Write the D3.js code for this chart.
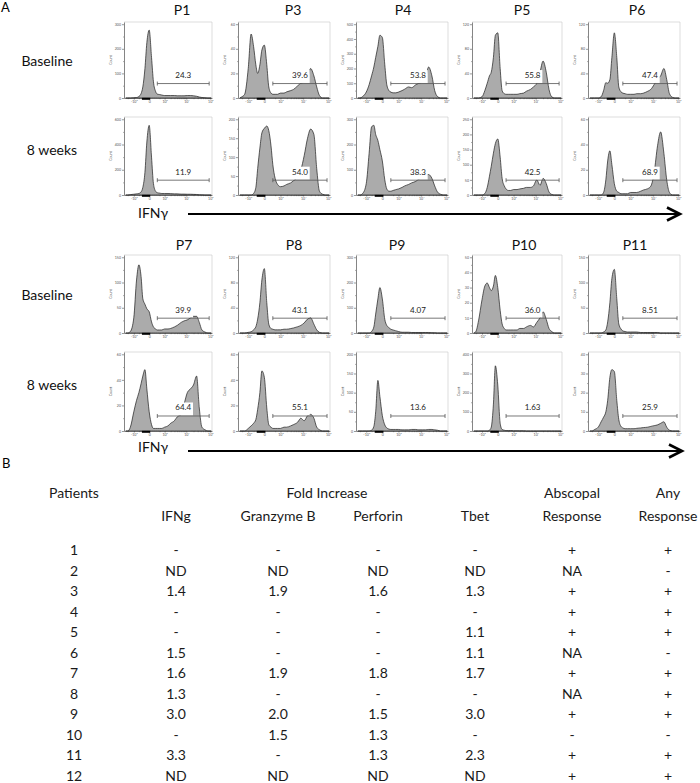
<!DOCTYPE html>
<html>
<head>
<meta charset="utf-8">
<script src="https://cdn.jsdelivr.net/npm/d3@7"></script>
<style>
	body { margin: 0; background: #fff; }
	svg text { font-family: Lato, "Open Sans", sans-serif; }
</style>
</head>
<body>
<script>
// IFNγ intensity bins shared by every histogram (biexponential axis)
var bins = [-2500, -2000, -1500, -1000, -700, -500, -350, -250, -150, -75, 0, 75, 150, 250, 350, 500, 700,
	1000, 1500, 2000, 3000, 4000, 6000, 8000, 11000, 15000, 20000, 27000, 35000, 45000, 60000, 80000, 110000]
var xDomain = [-3000, 118000]
var xTickValues = [-1000, 0, 1000, 10000, 100000]
var xTickLabels = ["-10³", "0", "10³", "10⁴", "10⁵"]
var minorTicks = [-2000, -500, 500, 2000, 3000, 4000, 5000, 6000, 7000, 8000, 9000,
	20000, 30000, 40000, 50000, 60000, 70000, 80000, 90000]
var gateRange = [350, 90000]

var topPatients = ["P1", "P3", "P4", "P5", "P6"]
var bottomPatients = ["P7", "P8", "P9", "P10", "P11"]
var rowNames = ["Baseline", "8 weeks"]

var baselineGates = ["24.3", "39.6", "53.8", "55.8", "47.4", "39.9", "43.1", "4.07", "36.0", "8.51"]
var week8Gates = ["11.9", "54.0", "38.3", "42.5", "68.9", "64.4", "55.1", "13.6", "1.63", "25.9"]

var baselineYTop = [300, 60, 500, 120, 120, 150, 120, 300, 50, 150]
var baselineYStep = [100, 20, 100, 40, 40, 50, 40, 100, 10, 50]
var week8YTop = [600, 200, 300, 250, 60, 60, 60, 200, 400, 40]
var week8YStep = [200, 50, 100, 50, 20, 20, 20, 50, 100, 10]

// counts per bin
var p1Baseline = [0,0,0,1,2,6,18,45,120,225,276,165,66,27,16,14,12,10,10,10,10,9,9,9,10,10,9,7,4,2,1,0,0]
var p3Baseline = [0,1,3,24,52,42,27,20,27,39,43,27,9,4,3,3,3,4,4,5,6,7,10,12,13,16,24,18,9,2,0,0,0]
var p4Baseline = [0,0,10,40,90,150,210,275,350,425,410,225,90,50,40,35,35,40,50,60,75,70,90,100,110,140,210,150,50,10,0,0,0]
var p5Baseline = [0,0,0,2,12,24,36,42,66,102,106,48,12,7,6,6,6,6,6,7,8,11,14,18,24,42,60,42,14,2,0,0,0]
var p6Baseline = [0,0,0,0,2,12,25,24,30,66,106,66,18,10,8,7,6,6,6,7,7,8,11,14,22,31,36,48,30,7,1,0,0]
var p7Baseline = [0,0,3,30,105,135,112,68,57,48,42,22,12,8,6,6,6,8,8,9,12,15,21,24,26,30,33,33,21,6,2,0,0]
var p8Baseline = [0,0,0,1,2,5,10,22,48,84,102,48,14,7,6,5,5,5,6,6,7,8,10,12,16,22,24,14,5,1,0,0,0]
var p9Baseline = [0,0,0,0,0,6,24,75,135,180,135,54,30,21,15,12,9,6,3,3,3,2,2,2,2,2,2,1,1,0,0,0,0]
var p10Baseline = [0,1,8,22,31,33,30,28,31,38,30,15,6,3,2,2,2,2,2,3,3,4,5,4,7,10,14,9,3,1,0,0,0]
var p11Baseline = [0,0,0,0,0,2,6,22,60,108,126,68,18,8,4,3,2,2,2,2,1,1,1,1,1,1,0,0,0,0,0,0,0]

var p1Week8 = [0,0,3,6,9,12,24,60,180,420,552,300,90,30,18,15,12,12,12,11,9,9,7,7,6,6,5,4,2,1,0,0,0]
var p3Week8 = [0,0,0,0,0,4,20,70,124,164,176,182,170,130,80,44,28,22,24,28,32,38,48,66,104,150,174,160,70,10,2,0,0]
var p4Week8 = [0,0,6,45,165,270,276,240,216,180,135,60,24,15,15,18,21,24,30,36,42,48,54,63,69,78,81,66,36,12,3,0,0]
var p5Week8 = [0,0,0,0,5,25,62,95,138,170,185,125,55,30,20,15,15,18,18,20,22,25,25,30,50,32,55,38,10,2,0,0,0]
var p6Week8 = [0,0,0,0,0,2,12,27,35,24,9,3,2,1,1,1,1,2,2,2,3,4,5,7,18,39,50,33,12,2,0,0,0]
var p7Week8 = [0,0,3,15,24,30,37,43,48,33,15,5,2,2,2,2,2,3,4,6,8,11,13,21,30,33,36,43,18,3,1,0,0]
var p8Week8 = [0,0,0,2,4,6,9,17,30,47,42,18,5,3,2,2,2,2,3,3,4,5,7,10,8,12,13,10,3,1,0,0,0]
var p9Week8 = [0,0,0,0,0,2,12,50,132,90,40,16,8,5,4,4,4,4,3,3,3,4,4,3,3,3,4,4,3,2,0,0,0]
var p10Week8 = [0,0,0,0,0,0,4,20,140,340,240,40,8,4,2,2,2,1,1,1,1,0,0,0,0,0,0,0,0,0,0,0,0]
var p11Week8 = [0,0,0.8,2,4.8,7.2,10,16,28,32,31,16,6,2.4,1.6,1.2,1.2,1.2,1.2,1.4,1.6,1.8,2,2.4,2.8,3.2,4,4.8,2,0.4,0,0,0]

var baselineCounts = [p1Baseline, p3Baseline, p4Baseline, p5Baseline, p6Baseline,
	p7Baseline, p8Baseline, p9Baseline, p10Baseline, p11Baseline]
var week8Counts = [p1Week8, p3Week8, p4Week8, p5Week8, p6Week8,
	p7Week8, p8Week8, p9Week8, p10Week8, p11Week8]

// table B
var patients = ["1", "2", "3", "4", "5", "6", "7", "8", "9", "10", "11", "12"]
var ifng = ["-", "ND", "1.4", "-", "-", "1.5", "1.6", "1.3", "3.0", "-", "3.3", "ND"]
var granzymeB = ["-", "ND", "1.9", "-", "-", "-", "1.9", "-", "2.0", "1.5", "-", "ND"]
var perforin = ["-", "ND", "1.6", "-", "-", "-", "1.8", "-", "1.5", "1.3", "1.3", "ND"]
var tbet = ["-", "ND", "1.3", "-", "1.1", "1.1", "1.7", "-", "3.0", "-", "2.3", "ND"]
var abscopal = ["+", "NA", "+", "+", "+", "NA", "+", "NA", "+", "-", "+", "+"]
var anyResponse = ["+", "-", "+", "+", "+", "-", "+", "+", "+", "-", "+", "+"]
var headerTop = ["Patients", "Fold Increase", "Abscopal", "Any"]
var headerBottom = ["IFNg", "Granzyme B", "Perforin", "Tbet", "Response", "Response"]

// layout
var w = 700
var h = 783
var colLeft = [124, 238, 356, 472, 588]
var colRight = [212, 330, 448, 562, 680]
var blocks = [
	{ patients: topPatients, first: 0, titleX: [182, 293, 403, 522, 637], titleY: 15,
		rowTops: [22, 117], rowAxes: [98, 195], labelYs: [65.5, 155], ifnY: 218, arrowY: 214, arrowEnd: 680 },
	{ patients: bottomPatients, first: 5, titleX: [184, 294, 397, 524, 635], titleY: 250,
		rowTops: [255, 352], rowAxes: [333, 431], labelYs: [300, 390], ifnY: 452, arrowY: 451, arrowEnd: 682 }
]
var rowLabelX = [47, 52]
var tableColX = [74, 176, 278, 378, 475, 572, 668]
var headerTopX = [74, 327, 572, 668]

function main() {
	var svg = d3.select("body")
		.append("svg")
		.attr("width", w)
		.attr("height", h)

	svg.append("text").attr("x", 1).attr("y", 12).attr("font-size", 13).text("A")
	svg.append("text").attr("x", 2).attr("y", 468).attr("font-size", 13).text("B")

	blocks.forEach((block) => drawBlock(svg, block))
	drawTable(svg)
}

function drawBlock(svg, block) {
	block.patients.forEach((p, c) => {
		svg.append("text")
			.attr("x", block.titleX[c])
			.attr("y", block.titleY)
			.attr("text-anchor", "middle")
			.attr("font-size", 14)
			.attr("fill", "#111")
			.text(p)
	})

	rowNames.forEach((name, r) => {
		svg.append("text")
			.attr("x", rowLabelX[r])
			.attr("y", block.labelYs[r])
			.attr("text-anchor", "middle")
			.attr("font-size", 14)
			.attr("fill", "#111")
			.text(name)

		block.patients.forEach((p, c) => {
			var k = block.first + c
			var counts = r == 0 ? baselineCounts[k] : week8Counts[k]
			var yTop = r == 0 ? baselineYTop[k] : week8YTop[k]
			var yStep = r == 0 ? baselineYStep[k] : week8YStep[k]
			var gate = r == 0 ? baselineGates[k] : week8Gates[k]
			drawHistogram(svg, colLeft[c], colRight[c], block.rowTops[r], block.rowAxes[r], counts, yTop, yStep, gate)
		})
	})

	// IFNγ axis arrow
	svg.append("text")
		.attr("x", 138)
		.attr("y", block.ifnY)
		.attr("font-size", 14)
		.attr("fill", "#111")
		.text("IFNγ")

	svg.append("line")
		.attr("x1", 188).attr("x2", block.arrowEnd - 2)
		.attr("y1", block.arrowY).attr("y2", block.arrowY)
		.attr("stroke", "#000")
		.attr("stroke-width", 2)

	svg.append("path")
		.attr("d", "M" + (block.arrowEnd - 13) + "," + (block.arrowY - 6.5)
			+ "L" + block.arrowEnd + "," + block.arrowY
			+ "L" + (block.arrowEnd - 13) + "," + (block.arrowY + 6.5))
		.attr("fill", "none")
		.attr("stroke", "#000")
		.attr("stroke-width", 2.6)
}

function styleAxis(g, fontSize) {
	g.select(".domain").attr("stroke", "#333").attr("stroke-width", 0.6)
	g.selectAll(".tick line").attr("stroke", "#333").attr("stroke-width", 0.5)
	g.selectAll("text").attr("font-size", fontSize).attr("fill", "#555").attr("font-family", "DejaVu Sans")
}

function drawHistogram(svg, left, right, top, axisY, counts, yTop, yStep, gateLabel) {
	var xScale = d3.scaleSymlog()
		.constant(300)
		.domain(xDomain)
		.range([left, right])

	var yScale = d3.scaleLinear()
		.domain([0, yTop * 1.03])
		.range([axisY, top])

	var g = svg.append("g")

	// light frame on top and right
	g.append("path")
		.attr("d", "M" + left + "," + top + "H" + right + "V" + axisY)
		.attr("fill", "none")
		.attr("stroke", "#c6c6c6")
		.attr("stroke-width", 0.6)

	var area = d3.area()
		.x((d, i) => xScale(bins[i]))
		.y0(axisY)
		.y1((d) => yScale(d))
		.curve(d3.curveMonotoneX)

	g.append("path")
		.datum(counts)
		.attr("d", area)
		.attr("fill", "#ababab")
		.attr("stroke", "#1e1e1e")
		.attr("stroke-width", 0.7)
		.attr("stroke-linejoin", "round")

	// axes
	var minorX = g.append("g")
		.attr("transform", "translate(0," + axisY + ")")
		.call(d3.axisBottom(xScale).tickValues(minorTicks).tickSize(1.2).tickFormat(""))
	minorX.select(".domain").remove()
	minorX.selectAll("line").attr("stroke", "#333").attr("stroke-width", 0.4)

	var xAxis = d3.axisBottom(xScale)
		.tickValues(xTickValues)
		.tickFormat((d, i) => xTickLabels[i])
		.tickSize(1.6)
		.tickSizeOuter(0)
		.tickPadding(0.6)
	g.append("g")
		.attr("transform", "translate(0," + axisY + ")")
		.call(xAxis)
		.call((a) => styleAxis(a, 3.6))

	var yTicks = d3.range(0, yTop + yStep / 2, yStep)
	var minorY = g.append("g")
		.attr("transform", "translate(" + left + ",0)")
		.call(d3.axisLeft(yScale).tickValues(yTicks.map((v) => v + yStep / 2).filter((v) => v < yTop)).tickSize(1).tickFormat(""))
	minorY.select(".domain").remove()
	minorY.selectAll("line").attr("stroke", "#333").attr("stroke-width", 0.4)

	g.append("g")
		.attr("transform", "translate(" + left + ",0)")
		.call(d3.axisLeft(yScale).tickValues(yTicks).tickSize(2).tickSizeOuter(0).tickPadding(1))
		.call((a) => styleAxis(a, 3.6))

	g.append("text")
		.attr("transform", "translate(" + (left - 12) + "," + ((top + axisY) / 2) + ") rotate(-90)")
		.attr("text-anchor", "middle")
		.attr("font-family", "DejaVu Sans")
		.attr("font-size", 3.6)
		.attr("fill", "#555")
		.text("Count")

	// marker near zero on the axis
	g.append("rect")
		.attr("x", xScale(-300))
		.attr("y", axisY - 0.2)
		.attr("width", xScale(30) - xScale(-300))
		.attr("height", 2)
		.attr("fill", "#000")

	// gate
	var gateY = axisY - 0.19 * (axisY - top)
	var gx1 = xScale(gateRange[0])
	var gx2 = xScale(gateRange[1])
	var label = g.append("text")
		.attr("x", (gx1 + gx2) / 2)
		.attr("y", gateY - 5.5)
		.attr("text-anchor", "middle")
		.attr("font-family", "DejaVu Sans")
		.attr("font-size", 8)
		.attr("fill", "#222")
		.text(gateLabel)
	var bb = label.node().getBBox()
	g.insert("rect", () => label.node())
		.attr("x", bb.x - 1.5)
		.attr("y", bb.y)
		.attr("width", bb.width + 3)
		.attr("height", gateY - 0.6 - bb.y)
		.attr("fill", "#fff")

	g.append("path")
		.attr("d", "M" + gx1 + "," + (gateY - 2) + "V" + (gateY + 2)
			+ "M" + gx1 + "," + gateY + "H" + gx2
			+ "M" + gx2 + "," + (gateY - 2) + "V" + (gateY + 2))
		.attr("fill", "none")
		.attr("stroke", "#555")
		.attr("stroke-width", 0.8)
}

function drawTable(svg) {
	var columns = [patients, ifng, granzymeB, perforin, tbet, abscopal, anyResponse]

	var yRow = d3.scalePoint()
		.domain(patients)
		.range([555, 780.5])

	headerTop.forEach((t, i) => {
		svg.append("text")
			.attr("x", headerTopX[i])
			.attr("y", 498)
			.attr("text-anchor", "middle")
			.attr("font-size", 14)
			.attr("fill", "#1a1a1a")
			.text(t)
	})

	headerBottom.forEach((t, i) => {
		svg.append("text")
			.attr("x", tableColX[i + 1])
			.attr("y", 521)
			.attr("text-anchor", "middle")
			.attr("font-size", 14)
			.attr("fill", "#1a1a1a")
			.text(t)
	})

	columns.forEach((col, c) => {
		svg.append("g")
			.selectAll("text")
			.data(col)
			.enter()
			.append("text")
			.attr("x", tableColX[c])
			.attr("y", (d, i) => yRow(patients[i]))
			.attr("text-anchor", "middle")
			.attr("font-size", 14)
			.attr("fill", "#1a1a1a")
			.text((d) => d)
	})
}

main()
</script>
</body>
</html>
